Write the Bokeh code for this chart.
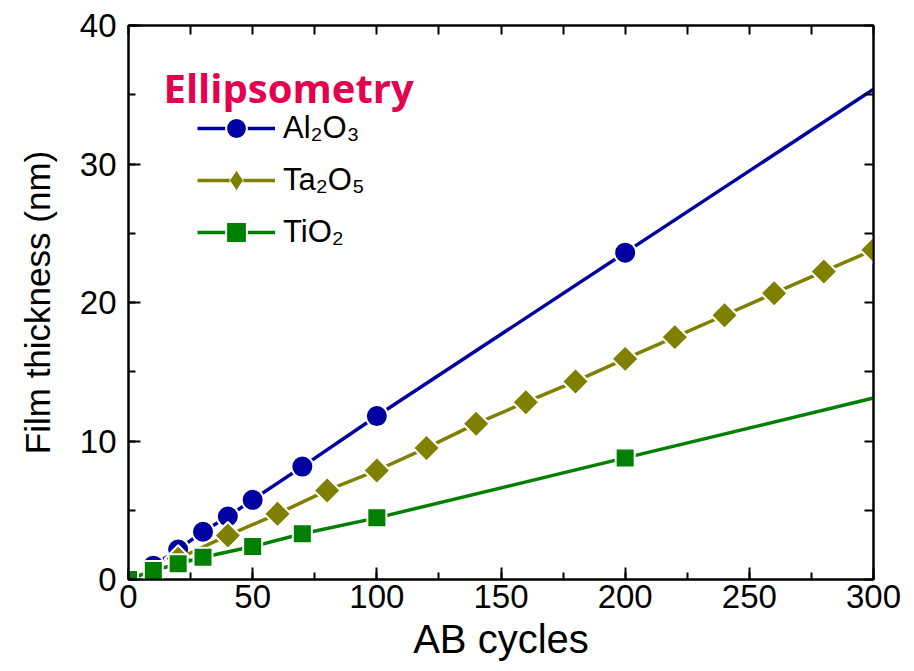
import numpy as np
from bokeh.plotting import figure
from bokeh.models import (Range1d, LinearAxis, SingleIntervalTicker, FixedTicker,
                          Legend, LegendItem, Label)
from bokeh.embed import file_html
from bokeh.resources import INLINE

# ---------------- data ----------------
al_cycles = [10, 20, 30, 40, 50, 70, 100, 200]
al_thick = [1.0, 2.17, 3.45, 4.55, 5.75, 8.15, 11.8, 23.6]
al_line_end = (300, 35.4)          # straight line continues to the right edge

ta_cycles = [20, 40, 60, 80, 100, 120, 140, 160, 180, 200, 220, 240, 260, 280, 300]
ta_thick = [1.5, 3.18, 4.74, 6.43, 7.87, 9.5, 11.25, 12.8, 14.3, 15.93, 17.5,
            19.08, 20.67, 22.24, 23.8]

ti_cycles = [0, 10, 20, 30, 50, 70, 100, 200]
ti_thick = [0.0, 0.65, 1.13, 1.61, 2.38, 3.3, 4.45, 8.78]
ti_line_end = (300, 13.1)

labels = ["Al\u2082O\u2083", "Ta\u2082O\u2085", "TiO\u2082"]
title_text = "Ellipsometry"
x_label = "AB cycles"
y_label = "Film thickness (nm)"
x_mirror_ticks = [0, 25, 50, 75, 100, 125, 150, 175, 200, 225, 250, 275, 300]
y_mirror_ticks = [0, 5, 10, 15, 20, 25, 30, 35, 40]

BLUE = "#0000A0"
OLIVE = "#808000"
GREEN = "#008000"
PINK = "#E4004F"
FONT = "Liberation Sans"

p = figure(width=914, height=671, x_range=Range1d(0, 300), y_range=Range1d(0, 40),
           min_border_left=128, min_border_right=41, min_border_top=25,
           min_border_bottom=92, output_backend="svg", toolbar_location=None,
           x_axis_type=None, y_axis_type=None)
p.grid.visible = False
p.outline_line_color = "black"
p.outline_line_width = 2
p.background_fill_color = "white"
p.border_fill_color = "white"

def style_axis(ax):
    ax.axis_line_width = 2
    ax.major_tick_line_width = 2
    ax.minor_tick_line_width = 2
    ax.major_tick_in = 12
    ax.major_tick_out = 0
    ax.minor_tick_in = 7
    ax.minor_tick_out = 0
    ax.major_label_text_font = FONT
    ax.major_label_text_font_size = "33px"
    ax.major_label_text_color = "black"
    ax.axis_label_text_font = FONT
    ax.axis_label_text_font_style = "normal"
    ax.axis_label_text_color = "black"
    return ax

xb = style_axis(LinearAxis(ticker=SingleIntervalTicker(interval=50, num_minor_ticks=2)))
xb.major_label_standoff = 5
xb.axis_label = x_label
xb.axis_label_text_font_size = "40px"
xb.axis_label_standoff = 6
p.add_layout(xb, "below")

yl = style_axis(LinearAxis(ticker=SingleIntervalTicker(interval=10, num_minor_ticks=2)))
yl.major_label_standoff = 12
yl.axis_label = y_label
yl.axis_label_text_font_size = "35px"
yl.axis_label_standoff = 20
p.add_layout(yl, "left")

# mirrored tick marks on the top and right edges (no labels)
xt = style_axis(LinearAxis(ticker=FixedTicker(ticks=[], minor_ticks=x_mirror_ticks)))
xt.minor_tick_in = 9
p.add_layout(xt, "above")
yr = style_axis(LinearAxis(ticker=FixedTicker(ticks=[], minor_ticks=y_mirror_ticks)))
yr.minor_tick_in = 9
p.add_layout(yr, "right")

# ---------------- series ----------------
al_line = p.line(al_cycles + [al_line_end[0]], al_thick + [al_line_end[1]],
                 line_color=BLUE, line_width=3.5)
al_pts = p.scatter(al_cycles, al_thick, marker="circle", size=22,
                   fill_color=BLUE, line_color="white", line_width=2)

ta_line = p.line(ta_cycles, ta_thick, line_color=OLIVE, line_width=3.5)
ta_pts = p.scatter(ta_cycles, ta_thick, marker="square", size=19, angle=np.pi / 4,
                   fill_color=OLIVE, line_color="white", line_width=2)
# legend key only (the legend cannot rotate markers); it has no visible point
ta_key = p.scatter(x=[np.nan], y=[np.nan], marker="diamond", size=22,
                   fill_color=OLIVE, line_color="white", line_width=1)

ti_line = p.line(ti_cycles + [ti_line_end[0]], ti_thick + [ti_line_end[1]],
                 line_color=GREEN, line_width=3.5)
ti_pts = p.scatter(ti_cycles, ti_thick, marker="square", size=19,
                   fill_color=GREEN, line_color="white", line_width=2)

legend = Legend(items=[
    LegendItem(label=labels[0], renderers=[al_line, al_pts]),
    LegendItem(label=labels[1], renderers=[ta_line, ta_key]),
    LegendItem(label=labels[2], renderers=[ti_line, ti_pts]),
], location=(69, 321))
legend.glyph_width = 78
legend.glyph_height = 52
legend.label_height = 52
legend.spacing = 0
legend.padding = 0
legend.margin = 0
legend.border_line_color = None
legend.background_fill_alpha = 0
legend.label_standoff = 8
legend.label_text_font = FONT
legend.label_text_font_size = "31px"
legend.label_text_color = "black"
p.add_layout(legend, "center")

title = Label(x=35, y=492, x_units="screen", y_units="screen", text=title_text,
              text_font="Open Sans", text_font_size="40px", text_font_style="bold",
              text_color=PINK, text_baseline="alphabetic")
p.add_layout(title)

open("out.html", "w").write(file_html(p, INLINE))
